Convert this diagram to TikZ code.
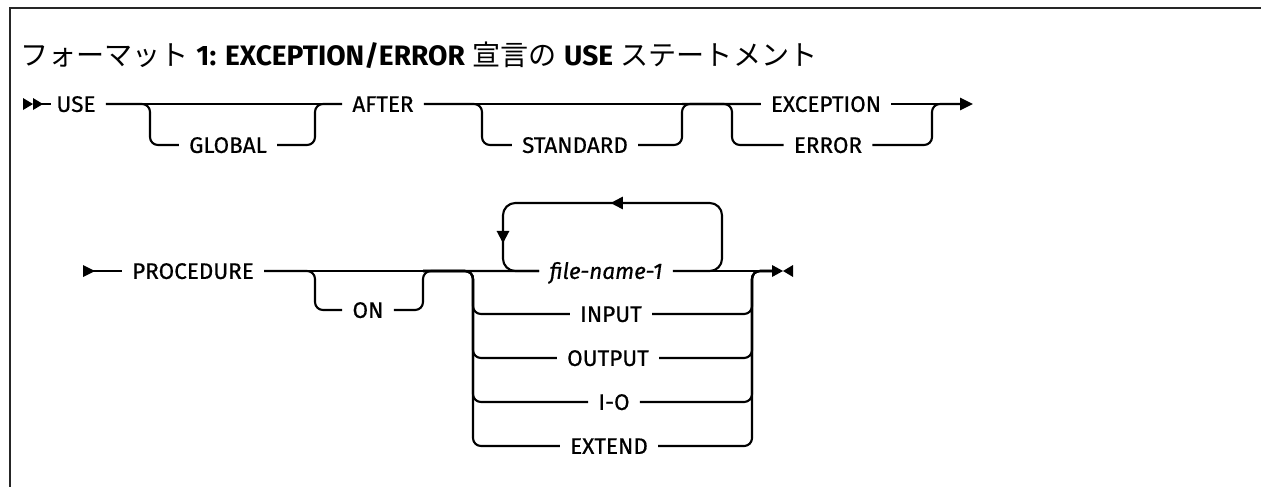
\documentclass[tikz,border=0pt]{standalone}
\usepackage{fontspec}
\setmainfont{Fira Sans}
\newfontfamily\diafam[FakeBold=0.6]{Fira Sans}
\newfontfamily\jpfont{Noto Sans CJK JP}
\usetikzlibrary{arrows.meta, positioning, calc, decorations.markings}

\newcommand{\diafont}{\diafam\fontsize{12.8pt}{14pt}\selectfont}

\begin{document}
\begin{tikzpicture}[
    x=0.02cm, y=-0.02cm,
    kw/.style={font=\diafont, inner xsep=0.2cm, inner ysep=0pt, text height=9pt, text depth=0pt},
    var/.style={kw, font=\diafont\itshape},
    rail/.style={line width=1.2pt, rounded corners=4.5pt},
    arrow/.style={rail, -{Triangle[length=7.4pt, width=7pt]}},
    looptip/.style={decorate, decoration={markings,
        mark=at position 0.52 with {\arrow{Triangle[length=7pt, width=7pt]}},
        mark=at position 0.86 with {\arrow{Triangle[length=7pt, width=7pt]}}}}
]
\useasboundingbox (0,0) rectangle (1261,487);

% Frame
\draw[line width=1.6pt, black!85] (1261,8) -- (10,8) -- (10,487);

% Title
\node[anchor=base west, font=\fontsize{16pt}{18pt}\selectfont, inner sep=0pt] (title) at (20,65)
  {{\jpfont フォーマット} \textbf{1: EXCEPTION/ERROR} {\jpfont 宣言の} \textbf{USE} {\jpfont ステートメント}};

% Row 1
\coordinate (s1) at (23,104);
\node[kw] (use) at (76,104) {USE};
\node[kw] (global) at (228,145) {GLOBAL};
\node[kw] (after) at (383,104) {AFTER};
\node[kw] (standard) at (575,145) {STANDARD};
\node[kw] (exception) at (826,104) {EXCEPTION};
\node[kw] (error) at (828,145) {ERROR};
\coordinate (j1) at (150,104);
\coordinate (j2) at (315,104);
\coordinate (j3) at (482,104);
\coordinate (j4) at (682,104);
\coordinate (j5) at (732,104);
\coordinate (j6) at (932,104);
\coordinate (t1) at (973,104);
\coordinate (t1b) at (960,104);

\fill (s1) -- ++(0,-6) -- ++(10,6) -- ++(-10,6) -- cycle;
\fill ($(s1)+(10,0)$) -- ++(0,-6) -- ++(10,6) -- ++(-10,6) -- cycle;
\draw[rail] ($(s1)+(18,0)$) -- ($(use.west)+(5,0)$);

\draw[rail] (use) -- (after);
\draw[rail] (use) -- (j1) |- (global);
\draw[rail] (global) -| (j2) -- (after);
\draw[rail] (after) -- (exception);
\draw[rail] (after) -- (j3) |- (standard);
\draw[rail] (standard) -| (j4) -- (exception);
\draw[rail] (j4) -- (j5) |- (error);
\draw[arrow] (exception) -- (t1);
\draw[rail] (error) -| (j6) -- (t1b);

% Row 2
\coordinate (s2) at (83,271);
\node[kw] (procedure) at (193,271) {PROCEDURE};
\node[kw] (on) at (368,310) {ON};
\node[var] (filename) at (606,271) {file-name-1};
\node[kw] (input) at (611,314) {INPUT};
\node[kw] (output) at (608,358) {OUTPUT};
\node[kw] (io) at (614,402) {I-O};
\node[kw] (extend) at (609,446) {EXTEND};
\coordinate (j7) at (315,271);
\coordinate (j8) at (423,271);
\coordinate (j9) at (473,271);
\coordinate (j10) at (752,271);
\coordinate (t2) at (772,271);
\coordinate (l1) at (503,203);
\coordinate (l2) at (722,203);

\fill (s2) -- ++(0,-6) -- ++(12,6) -- ++(-12,6) -- cycle;
\draw[rail] (s2) -- (procedure);
\draw[rail] (procedure) -- (filename);
\draw[rail] (procedure) -- (j7) |- (on);
\draw[rail] (on) -| (j8) -- (filename);
\draw[rail] (filename) -- (t2);
\foreach \n in {input,output,io,extend} {
  \draw[rail] (j8) -- (j9) |- (\n);
  \draw[rail] (\n) -| (j10) -- (t2);
}
\draw[rail, rounded corners=7pt, postaction={looptip}] (filename) -| (l2) -- (l1) |- (filename);

% End mark
\fill (t2) -- ++(0,-6) -- ++(11,6) -- ++(-11,6) -- cycle;
\fill ($(t2)+(21,0)$) -- ++(0,-6) -- ++(-10,6) -- ++(10,6) -- cycle;

\end{tikzpicture}
\end{document}
